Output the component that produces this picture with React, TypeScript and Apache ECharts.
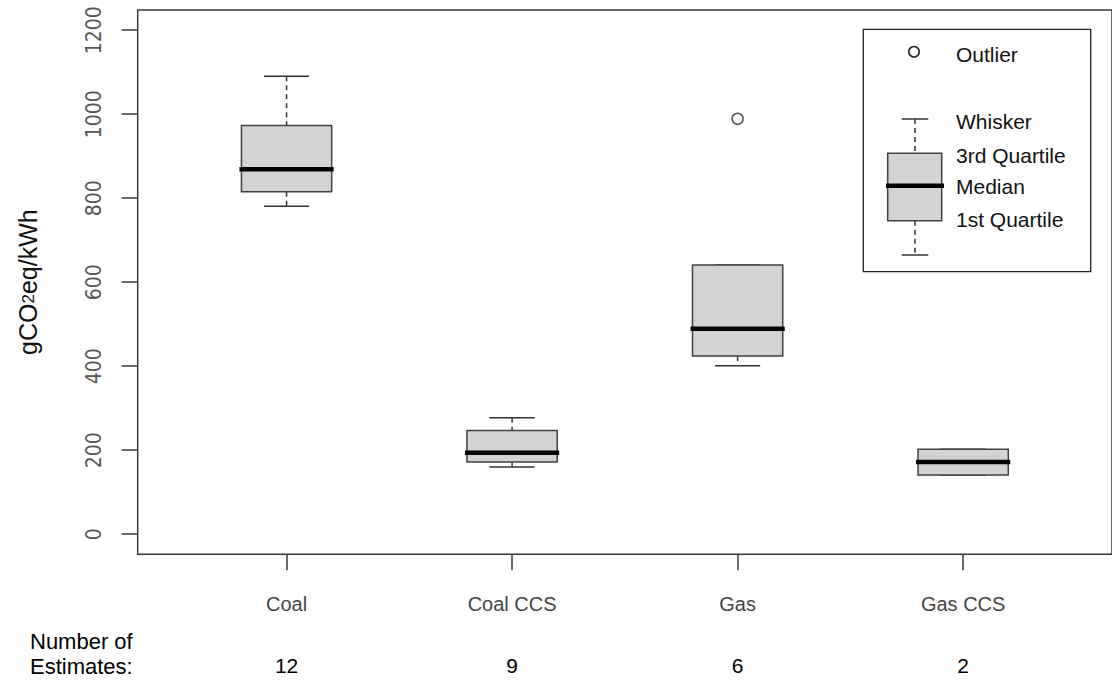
import React, { useEffect, useRef } from "react";
import * as echarts from "echarts";

const categories = ["Coal", "Coal CCS", "Gas", "Gas CCS"];
const whiskerLow = [781, 160, 401, 141];
const quartile1 = [815, 172, 424, 141];
const medians = [869, 194, 489, 172];
const quartile3 = [973, 247, 641, 202];
const whiskerHigh = [1090, 277, 641, 202];
const outlierCategory = [2];
const outlierValue = [989];
const estimates = [12, 9, 6, 2];
const yTicks = [0, 200, 400, 600, 800, 1000, 1200];

const FONT = "'Liberation Sans', Arial, Helvetica, sans-serif";
const NARROW = "'Liberation Sans Narrow', 'DejaVu Sans Condensed', 'Liberation Sans', Arial, sans-serif";
const BOX_W = 0.4;
const CAP_W = 0.2;
const EDGE = "#404040";
const FILL = "#d3d3d3";

export default function App() {
  const ref = useRef<HTMLDivElement>(null);
  useEffect(() => {
    if (!ref.current) return;
    const chart = echarts.init(ref.current, null, { renderer: "svg" });
    const xPos = categories.map((_, i) => i + 1);
    const boxData = categories.map((_, i) => [
      i + 1,
      whiskerLow[i],
      quartile1[i],
      medians[i],
      quartile3[i],
      whiskerHigh[i],
    ]);
    const outData = outlierCategory.map((c, i) => [c + 1, outlierValue[i]]);

    const lx = 915; // legend glyph centre
    const option: any = {
      animation: false,
      backgroundColor: "#fff",
      grid: {
        left: 137.7,
        top: 10,
        right: -3.5,
        bottom: 126.7,
        show: true,
        borderColor: "#383838",
        borderWidth: 1.5,
        backgroundColor: "transparent",
      },
      xAxis: [
        {
          type: "value",
          min: 0.34,
          max: 4.66,
          axisLine: { show: false, onZero: false },
          splitLine: { show: false },
          axisTick: {
            show: true,
            customValues: xPos,
            length: 16,
            lineStyle: { color: "#383838", width: 1.5 },
          },
          axisLabel: {
            customValues: xPos,
            formatter: (v: number) => categories[Math.round(v) - 1] ?? "",
            margin: 40,
            fontSize: 20,
            fontFamily: FONT,
            color: "#444",
          },
        },
        {
          type: "value",
          min: 0.34,
          max: 4.66,
          position: "bottom",
          axisLine: { show: false, onZero: false },
          splitLine: { show: false },
          axisTick: { show: false },
          axisLabel: {
            customValues: xPos,
            formatter: (v: number) => String(estimates[Math.round(v) - 1] ?? ""),
            margin: 101,
            fontSize: 21,
            fontFamily: FONT,
            color: "#000",
          },
        },
      ],
      yAxis: {
        type: "value",
        min: -48,
        max: 1248,
        axisLine: { show: false, onZero: false },
        splitLine: { show: false },
        axisTick: {
          show: true,
          customValues: yTicks,
          length: 16,
          lineStyle: { color: "#383838", width: 1.5 },
        },
        axisLabel: {
          customValues: yTicks,
          formatter: (v: number) => String(v),
          rotate: 90,
          margin: 33,
          fontSize: 21,
          fontFamily: NARROW,
          color: "#555",
        },
        name: "{a|gCO}{s|2}{a|eq/kWh}",
        nameLocation: "middle",
        nameRotate: 90,
        nameGap: 97,
        nameTextStyle: {
          rich: {
            a: { fontSize: 25, fontFamily: FONT, color: "#111" },
            s: { fontSize: 17, fontFamily: FONT, color: "#111" },
          },
        },
      },
      series: [
        {
          type: "custom",
          data: boxData,
          encode: { x: 0, y: [1, 2, 3, 4, 5] },
          renderItem: (params: any, api: any) => {
            const x = api.value(0);
            const pLo = api.coord([x, api.value(1)]);
            const pQ1 = api.coord([x, api.value(2)]);
            const pMed = api.coord([x, api.value(3)]);
            const pQ3 = api.coord([x, api.value(4)]);
            const pHi = api.coord([x, api.value(5)]);
            const hb = api.size([BOX_W, 0])[0] / 2;
            const hc = api.size([CAP_W, 0])[0] / 2;
            const cx = pMed[0];
            const dash = { stroke: "#333", lineWidth: 1.5, lineDash: [5, 4] };
            const solid = { stroke: "#333", lineWidth: 1.5 };
            return {
              type: "group",
              children: [
                {
                  type: "line",
                  shape: { x1: cx, y1: pHi[1], x2: cx, y2: pQ3[1] },
                  style: dash,
                },
                {
                  type: "line",
                  shape: { x1: cx, y1: pQ1[1], x2: cx, y2: pLo[1] },
                  style: dash,
                },
                {
                  type: "line",
                  shape: { x1: cx - hc, y1: pHi[1], x2: cx + hc, y2: pHi[1] },
                  style: solid,
                },
                {
                  type: "line",
                  shape: { x1: cx - hc, y1: pLo[1], x2: cx + hc, y2: pLo[1] },
                  style: solid,
                },
                {
                  type: "rect",
                  shape: { x: cx - hb, y: pQ3[1], width: hb * 2, height: pQ1[1] - pQ3[1] },
                  style: { fill: FILL, stroke: EDGE, lineWidth: 1.5 },
                },
                {
                  type: "line",
                  shape: { x1: cx - hb - 2, y1: pMed[1], x2: cx + hb + 2, y2: pMed[1] },
                  style: { stroke: "#000", lineWidth: 4.5 },
                },
              ],
            };
          },
        },
        {
          type: "scatter",
          data: outData,
          symbol: "circle",
          symbolSize: 11,
          itemStyle: { color: "rgba(0,0,0,0)", borderColor: "#333", borderWidth: 1.6 },
        },
      ],
      graphic: [
        {
          type: "rect",
          shape: { x: 863.3, y: 29.3, width: 227.4, height: 242.4 },
          style: { fill: "#fff", stroke: "#222", lineWidth: 1.3 },
        },
        {
          type: "circle",
          shape: { cx: lx - 1, cy: 51.7, r: 5.2 },
          style: { fill: "none", stroke: "#222", lineWidth: 1.6 },
        },
        {
          type: "line",
          shape: { x1: lx, y1: 119, x2: lx, y2: 153.3 },
          style: { stroke: "#333", lineWidth: 1.5, lineDash: [5, 4] },
        },
        {
          type: "line",
          shape: { x1: lx, y1: 220.7, x2: lx, y2: 255 },
          style: { stroke: "#333", lineWidth: 1.5, lineDash: [5, 4] },
        },
        {
          type: "line",
          shape: { x1: 901.7, y1: 119, x2: 928.3, y2: 119 },
          style: { stroke: "#333", lineWidth: 1.5 },
        },
        {
          type: "line",
          shape: { x1: 901.7, y1: 255, x2: 928.3, y2: 255 },
          style: { stroke: "#333", lineWidth: 1.5 },
        },
        {
          type: "rect",
          shape: { x: 887.7, y: 153.3, width: 54, height: 67.4 },
          style: { fill: FILL, stroke: EDGE, lineWidth: 1.5 },
        },
        {
          type: "line",
          shape: { x1: 886, y1: 185.7, x2: 944, y2: 185.7 },
          style: { stroke: "#000", lineWidth: 4.5 },
        },
        ...[
          ["Outlier", 54],
          ["Whisker", 121.7],
          ["3rd Quartile", 155],
          ["Median", 186.7],
          ["1st Quartile", 219.3],
        ].map(([t, y]) => ({
          type: "text",
          x: 956,
          y: y as number,
          style: {
            text: t as string,
            fontSize: 21,
            fontFamily: FONT,
            fill: "#111",
            verticalAlign: "middle",
            align: "left",
          },
        })),
        {
          type: "text",
          x: 30,
          y: 641,
          style: {
            text: "Number of",
            fontSize: 22,
            fontFamily: FONT,
            fill: "#000",
            verticalAlign: "middle",
            align: "left",
          },
        },
        {
          type: "text",
          x: 30,
          y: 666,
          style: {
            text: "Estimates:",
            fontSize: 22,
            fontFamily: FONT,
            fill: "#000",
            verticalAlign: "middle",
            align: "left",
          },
        },
      ],
    };
    chart.setOption(option);
    return () => chart.dispose();
  }, []);
  return (
    <div
      ref={ref}
      style={{ position: "absolute", left: 0, top: 0, width: 1112, height: 681, background: "#fff" }}
    />
  );
}
